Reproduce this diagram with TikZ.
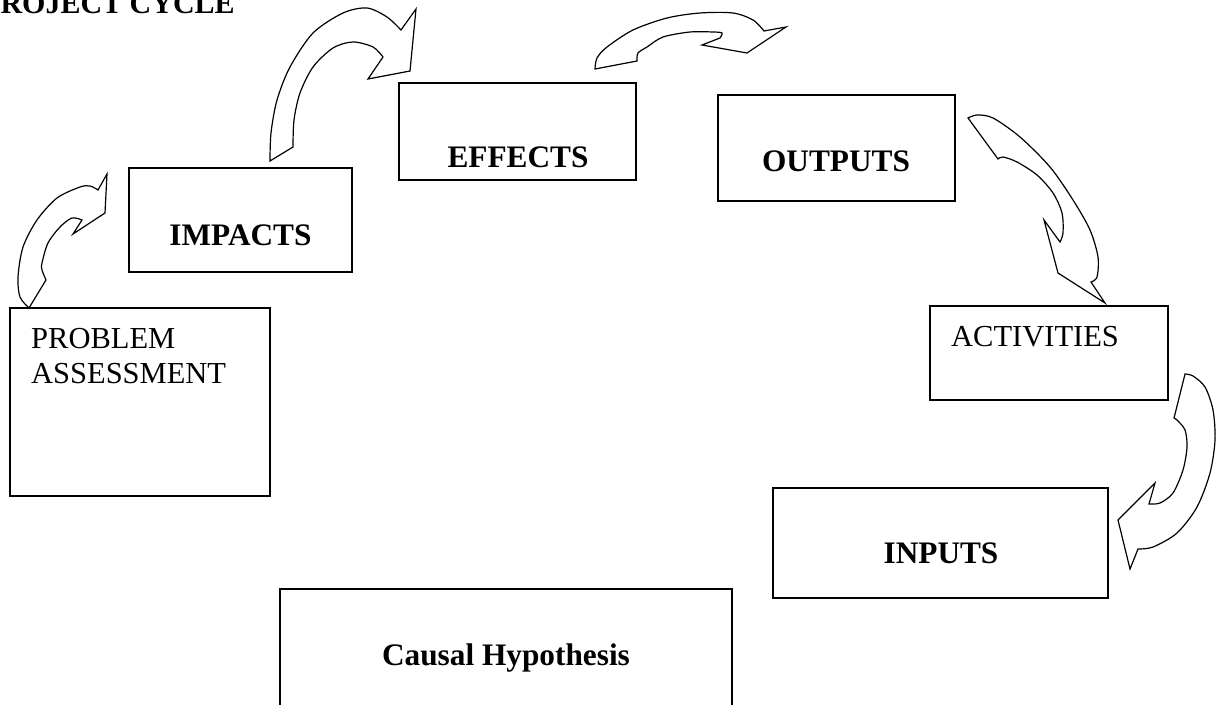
\documentclass[tikz,border=0pt]{standalone}
\usepackage{fontspec}
\setmainfont{Liberation Serif}

\begin{document}
\begin{tikzpicture}[x=1pt,y=-1pt,
		stage/.style={draw, line width=1.5pt, inner sep=0pt},
		lbl/.style={font=\fontsize{30.5}{35}\selectfont, inner sep=0pt},
		bold lbl/.style={lbl, font=\fontsize{31.3}{35}\selectfont\bfseries},
		blk/.style={draw, line width=1.2pt, line join=miter, fill=white}]
	\useasboundingbox (0,0) rectangle (1223,704);
	\clip (0,0) rectangle (1223,704);
	
	\node[bold lbl, font=\fontsize{30}{35}\selectfont\bfseries, anchor=base west] (title) at (-18,13) {PROJECT CYCLE};
	
	% stages
	\node[stage, minimum width=260pt, minimum height=188pt] (pa) at (140,402) {};
	\node[stage, minimum width=223pt, minimum height=104pt] (impacts) at (240.5,220) {};
	\node[stage, minimum width=237pt, minimum height=97pt] (effects) at (517.5,131.5) {};
	\node[stage, minimum width=237pt, minimum height=106pt] (outputs) at (836.5,148) {};
	\node[stage, minimum width=238pt, minimum height=94pt] (activities) at (1049,353) {};
	\node[stage, minimum width=335pt, minimum height=110pt] (inputs) at (940.5,543) {};
	\node[stage, minimum width=452pt, minimum height=142pt] (causal) at (506,660) {};
	
	\node[lbl, anchor=base west, align=left] (patxt) at (31,383) {PROBLEM\\ASSESSMENT};
	\node[bold lbl, anchor=base] (impactstxt) at (240.5,245) {IMPACTS};
	\node[bold lbl, anchor=base] (effectstxt) at (518,167) {EFFECTS};
	\node[bold lbl, anchor=base] (outputstxt) at (836,171) {OUTPUTS};
	\node[lbl, anchor=base west] (activitiestxt) at (951,346) {ACTIVITIES};
	\node[bold lbl, anchor=base] (inputstxt) at (941,563) {INPUTS};
	\node[bold lbl, anchor=base] (causaltxt) at (506,665) {Causal Hypothesis};
	
	% curved block arrows
	\draw[blk] plot[smooth] coordinates {(29,308) (20,297) (18,277) (23,247) (37,220) (57,198) (80,187) (90,186) (98,190)}
		-- (107,174) -- (105,213) -- (73,234)
		-- plot[smooth] coordinates {(82,220) (72,218) (60,227) (48,243) (42,263) (42,270) (46,280)} -- cycle;
	\draw[blk] plot[smooth] coordinates {(270,161) (271,133) (277,100) (290,67) (313,33) (343,13) (367,8) (387,17) (401,30)}
		-- (416,9) -- (410,71) -- (368,79)
		-- plot[smooth] coordinates {(383,57) (373,47) (353,42) (333,48) (313,67) (300,93) (294,120) (293,147)} -- cycle;
	\draw[blk] plot[smooth] coordinates {(595,69) (597,58) (607,47) (633,30) (667,18) (700,13) (733,13) (753,20) (764,31)}
		-- (786,27) -- (747,53) -- (702,45)
		-- plot[smooth] coordinates {(720,38) (722,33) (713,32) (690,32) (663,37) (647,47) (638,53) (637,61)} -- cycle;
	\draw[blk] plot[smooth] coordinates {(968,118) (977,115) (993,118) (1020,137) (1050,167) (1073,200) (1090,230) (1098,257) (1097,277) (1091,282)}
		-- (1105,303) -- (1058,273) -- (1044,220)
		-- plot[smooth] coordinates {(1060,242) (1063,233) (1062,213) (1053,193) (1037,175) (1017,162) (1003,157) (998,159)} -- cycle;
	\draw[blk] plot[smooth] coordinates {(1185,374) (1193,376) (1205,387) (1213,410) (1215,440) (1210,473) (1197,507) (1177,533) (1153,547) (1138,549)}
		-- (1130,569) -- (1118,520) -- (1155,483)
		-- plot[smooth] coordinates {(1149,504) (1160,503) (1173,493) (1183,470) (1187,447) (1185,430) (1177,420) (1174,418)} -- cycle;
\end{tikzpicture}
\end{document}
